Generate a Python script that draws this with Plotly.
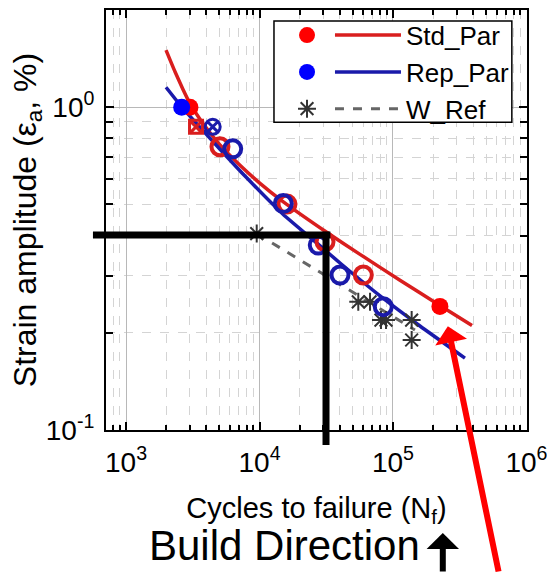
import plotly.graph_objects as go

# ---- data ----
red_fit_n = [1994, 2329, 2673, 3013, 3583, 4259, 5058, 7142, 10090, 15000, 32060, 56620, 112800, 224700, 390900]
red_fit_e = [1.502, 1.287, 1.135, 1.027, 0.917, 0.833, 0.764, 0.661, 0.581, 0.510, 0.409, 0.350, 0.291, 0.243, 0.2106]

blue_fit_n = [1994, 2625, 5058, 8054, 15000, 26980, 40090, 84100, 159300, 346000]
blue_fit_e = [1.153, 1.0, 0.741, 0.603, 0.466, 0.379, 0.329, 0.256, 0.210, 0.167]

wref_fit_n = [9530, 146000]
wref_fit_e = [0.406, 0.204]

red_solid_n = [3013, 224700]
red_solid_e = [1.0, 0.2415]
blue_solid_n = [2612]
blue_solid_e = [1.0]

red_open_n = [5058, 16070, 30970, 59950]
red_open_e = [0.754, 0.501, 0.383, 0.302]
blue_open_n = [6300, 15070, 27560, 40090, 84560]
blue_open_e = [0.743, 0.503, 0.374, 0.302, 0.241]

red_cross_n = [3345]
red_cross_e = [0.869]
blue_cross_n = [4460]
blue_cross_e = [0.869]

wref_n = [9530, 54950, 67300, 81300, 88700, 138000, 138000]
wref_e = [0.406, 0.2495, 0.2495, 0.219, 0.219, 0.219, 0.190]

series_names = ["Std_Par", "Rep_Par", "W_Ref"]

x_tickvals = [1e3, 1e4, 1e5, 1e6]
x_ticktext = ["10<sup>3</sup>", "10<sup>4</sup>", "10<sup>5</sup>", "10<sup>6</sup>"]
y_tickvals = [0.1, 1.0]
y_ticktext = ["10<sup>-1</sup>", "10<sup>0</sup>"]
x_minor = [m * 10 ** k for k in range(2, 6) for m in range(2, 10)]
y_minor = [m * 10 ** k for k in range(-1, 1) for m in range(2, 10)]

RED_LINE = "#d91e1e"
BLUE_LINE = "#1a1aaa"
RED_MK = "#ff0000"
BLUE_MK = "#0000ff"
GRAY = "#333333"
FONT = "Liberation Sans, Arial, sans-serif"

fig = go.Figure()

# fitted curves (legend2: line samples + names)
fig.add_trace(go.Scatter(x=red_fit_n, y=red_fit_e, mode="lines", name=series_names[0],
                         line=dict(color=RED_LINE, width=3.5, shape="spline", smoothing=0.5),
                         legend="legend2"))
fig.add_trace(go.Scatter(x=blue_fit_n, y=blue_fit_e, mode="lines", name=series_names[1],
                         line=dict(color=BLUE_LINE, width=3.5, shape="spline", smoothing=0.5),
                         legend="legend2"))
fig.add_trace(go.Scatter(x=wref_fit_n, y=wref_fit_e, mode="lines", name=series_names[2],
                         line=dict(color="#666666", width=3, dash="dash"),
                         legend="legend2"))

# reference asterisks
fig.add_trace(go.Scatter(x=wref_n, y=wref_e, mode="markers", name=" ",
                         marker=dict(symbol="asterisk-open", size=15, color=GRAY,
                                     line=dict(color=GRAY, width=2)),
                         legend="legend", legendrank=3))

# open symbols
fig.add_trace(go.Scatter(x=red_open_n, y=red_open_e, mode="markers", showlegend=False,
                         marker=dict(symbol="circle-open", size=17, color=RED_LINE,
                                     line=dict(color=RED_LINE, width=4))))
fig.add_trace(go.Scatter(x=red_cross_n, y=red_cross_e, mode="markers", showlegend=False,
                         marker=dict(symbol="square-x-open", size=13, color=RED_LINE,
                                     line=dict(color=RED_LINE, width=3))))
fig.add_trace(go.Scatter(x=blue_open_n, y=blue_open_e, mode="markers", showlegend=False,
                         marker=dict(symbol="circle-open", size=17, color=BLUE_LINE,
                                     line=dict(color=BLUE_LINE, width=4))))
fig.add_trace(go.Scatter(x=blue_cross_n, y=blue_cross_e, mode="markers", showlegend=False,
                         marker=dict(symbol="circle-x-open", size=15, color=BLUE_LINE,
                                     line=dict(color=BLUE_LINE, width=3))))

# solid symbols (legend: marker column)
fig.add_trace(go.Scatter(x=red_solid_n, y=red_solid_e, mode="markers", name=" ",
                         marker=dict(symbol="circle", size=17, color=RED_MK),
                         legend="legend", legendrank=1))
fig.add_trace(go.Scatter(x=blue_solid_n, y=blue_solid_e, mode="markers", name=" ",
                         marker=dict(symbol="circle", size=17, color=BLUE_MK),
                         legend="legend", legendrank=2))

axis_common = dict(
    type="log", tickmode="array", automargin=False,
    showline=True, linecolor="black", linewidth=2, mirror="ticks",
    ticks="inside", ticklen=8, tickwidth=2, tickcolor="black",
    showgrid=True, gridcolor="#b8b8b8", gridwidth=1,
    zeroline=False, ticklabeloverflow="allow",
    tickfont=dict(family=FONT, size=28, color="black"),
)

fig.update_xaxes(**axis_common, range=[2.85, 6.004],
                 tickvals=x_tickvals, ticktext=x_ticktext,
                 minor=dict(tickmode="array", tickvals=x_minor,
                            ticks="inside", ticklen=5, tickwidth=1.5, tickcolor="black",
                            showgrid=True, gridcolor="#d4d4d4", griddash="dash", gridwidth=1),
                 title=dict(text="Cycles to failure (N<sub>f</sub>)",
                            font=dict(family=FONT, size=29, color="black"), standoff=21),
                 ticklabelstandoff=6)
fig.update_yaxes(**axis_common, range=[-1, 0.301],
                 tickvals=y_tickvals, ticktext=y_ticktext,
                 minor=dict(tickmode="array", tickvals=y_minor,
                            ticks="inside", ticklen=7, tickwidth=1.5, tickcolor="black",
                            showgrid=True, gridcolor="#d4d4d4", griddash="dash", gridwidth=1),
                 title=dict(text="Strain amplitude (\u03b5<sub>a</sub>, %)",
                            font=dict(family=FONT, size=32, color="black"), standoff=0),
                 ticklabelstandoff=4)

# legend frame
fig.add_shape(type="rect", xref="paper", yref="paper", x0=0.399, x1=0.964, y0=0.733, y1=0.974,
              line=dict(color="black", width=1.5), fillcolor="white", layer="above")

# thick black guide lines
fig.add_shape(type="line", xref="paper", yref="paper", x0=-0.031, x1=0.533, y0=0.464, y1=0.464,
              line=dict(color="black", width=7), layer="above")
fig.add_shape(type="line", xref="paper", yref="paper", x0=0.5226, x1=0.5226, y0=0.472, y1=-0.036,
              line=dict(color="black", width=7), layer="above")

# red arrow
fig.add_annotation(xref="paper", yref="paper", x=0.812, y=0.247, text="", showarrow=True,
                   ax=51, ay=255, arrowcolor="#ff0000", arrowwidth=6, arrowhead=1, arrowsize=0.9)
# build direction
fig.add_annotation(xref="paper", yref="paper", x=0.423, y=-0.276, text="Build Direction",
                   showarrow=False, font=dict(family=FONT, size=42, color="black"),
                   xanchor="center", yanchor="middle")
fig.add_annotation(xref="paper", yref="paper", x=0.800, y=-0.245, text="", showarrow=True,
                   ax=0, ay=48, arrowcolor="black", arrowwidth=6, arrowhead=1, arrowsize=0.9)

legend_font = dict(family=FONT, size=26, color="black")
fig.update_layout(
    width=547, height=573,
    margin=dict(l=106, r=20, t=10, b=143, autoexpand=False),
    paper_bgcolor="white", plot_bgcolor="white",
    font=dict(family=FONT, color="black"),
    showlegend=True,
    legend=dict(x=0.430, y=0.996, xanchor="left", yanchor="top",
                bgcolor="rgba(0,0,0,0)", borderwidth=0,
                font=legend_font, itemwidth=30, tracegroupgap=0),
    legend2=dict(x=0.532, y=0.996, xanchor="left", yanchor="top",
                 bgcolor="rgba(0,0,0,0)", borderwidth=0,
                 font=legend_font, itemwidth=66, tracegroupgap=0),
)

fig.write_html("out.html")
